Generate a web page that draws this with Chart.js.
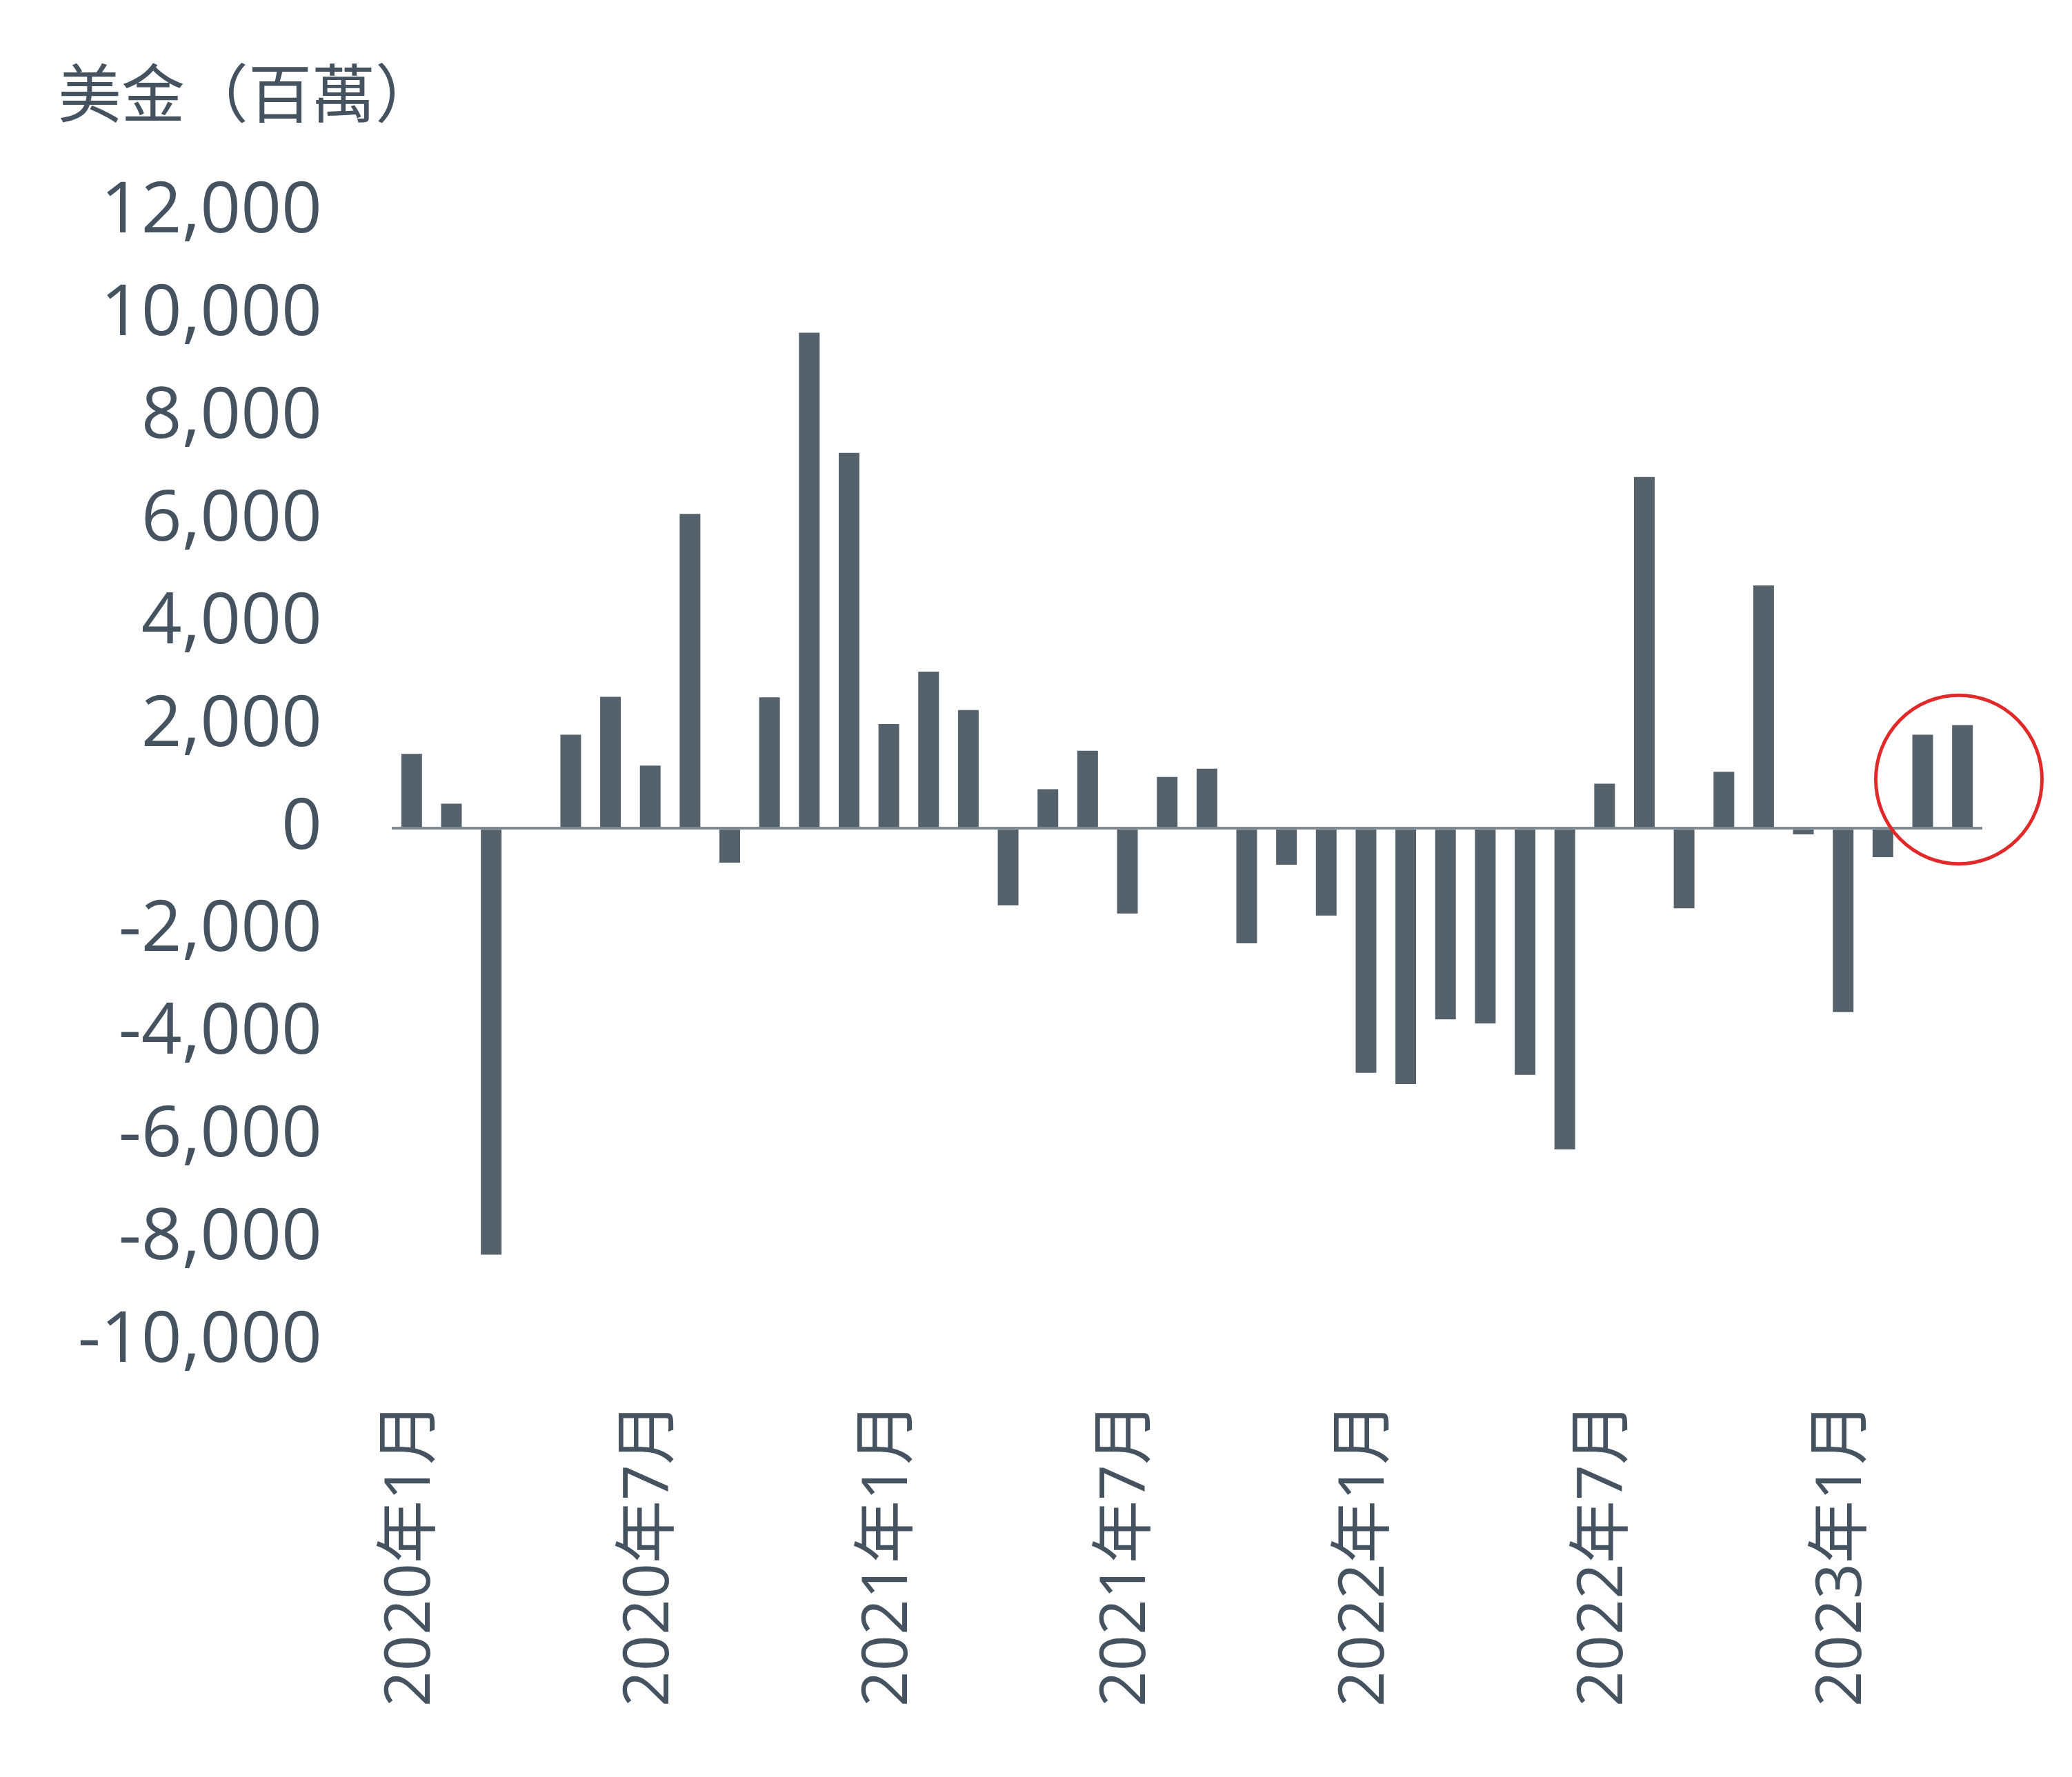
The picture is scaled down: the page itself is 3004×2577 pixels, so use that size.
<!DOCTYPE html>
<html>
<head>
<meta charset="utf-8">
<script src="https://cdn.jsdelivr.net/npm/chart.js@4"></script>
<style>
  html, body { margin: 0; padding: 0; background: #ffffff; }
  #wrap { width: 3004px; height: 2577px; position: relative; }
</style>
</head>
<body>
<div id="wrap"><canvas id="flows"></canvas></div>
<script>
// monthly flows, USD millions
const months = [
  "2020年1月", "2020年2月", "2020年3月", "2020年4月", "2020年5月", "2020年6月",
  "2020年7月", "2020年8月", "2020年9月", "2020年10月", "2020年11月", "2020年12月",
  "2021年1月", "2021年2月", "2021年3月", "2021年4月", "2021年5月", "2021年6月",
  "2021年7月", "2021年8月", "2021年9月", "2021年10月", "2021年11月", "2021年12月",
  "2022年1月", "2022年2月", "2022年3月", "2022年4月", "2022年5月", "2022年6月",
  "2022年7月", "2022年8月", "2022年9月", "2022年10月", "2022年11月", "2022年12月",
  "2023年1月", "2023年2月", "2023年3月", "2023年4月",
];
const flows = [
  1450, 480, -8300, 0, 1820, 2560,
  1220, 6120, -670, 2550, 9650, 7310,
  2030, 3050, 2300, -1500, 760, 1510,
  -1660, 1000, 1160, -2240, -710, -1700,
  -4760, -4980, -3720, -3800, -4800, -6250,
  870, 6840, -1560, 1100, 4730, -120,
  -3580, -560, 1820, 2010,
];
const yTicks = [-10000, -8000, -6000, -4000, -2000, 0, 2000, 4000, 6000, 8000, 10000, 12000];
const shownEvery = 6;

const textColor = "#44535f";
const barColor = "#55626c";

// red ring around the last two months
const ringPlugin = {
  id: "ring",
  afterDatasetsDraw(chart) {
    const x = chart.scales.x;
    const y = chart.scales.y;
    const step = x.getPixelForValue(1) - x.getPixelForValue(0);
    const cx = x.getPixelForValue(flows.length - 1) - step * 0.09;
    const cy = y.getPixelForValue(950);
    const ctx = chart.ctx;
    ctx.save();
    ctx.beginPath();
    ctx.ellipse(cx, cy, step * 2.09, step * 2.12, 0, 0, Math.PI * 2);
    ctx.strokeStyle = "#e02a2a";
    ctx.lineWidth = 5;
    ctx.stroke();
    ctx.restore();
  },
};

const ctx = document.getElementById("flows").getContext("2d");

new Chart(ctx, {
  type: "bar",
  data: {
    labels: months,
    datasets: [
      {
        label: "美金（百萬）",
        data: flows,
        backgroundColor: barColor,
        borderWidth: 0,
        categoryPercentage: 1,
        barPercentage: 0.52,
      },
    ],
  },
  options: {
    responsive: true,
    maintainAspectRatio: false,
    devicePixelRatio: 1,
    animation: false,
    layout: {
      padding: { left: 84, right: 130, top: 0, bottom: 0 },
    },
    plugins: {
      legend: { display: false },
      tooltip: { enabled: false },
      title: {
        display: true,
        text: "美金（百萬）",
        align: "start",
        color: textColor,
        font: { family: "'Noto Sans CJK TC', 'Open Sans'", size: 92, weight: "normal", lineHeight: 1.2 },
        padding: { top: 80, bottom: 117 },
      },
    },
    scales: {
      x: {
        grid: { display: false },
        border: { display: false },
        ticks: {
          autoSkip: false,
          maxRotation: 90,
          minRotation: 90,
          padding: 79,
          color: textColor,
          font: { family: "'Open Sans', 'Noto Sans CJK TC'", size: 91 },
          callback: (v, i) => (i % shownEvery === 0 ? months[i] : ""),
        },
        afterFit: (scale) => {
          scale.height = 631;
          scale.paddingLeft = 0;
          scale.paddingRight = 0;
        },
      },
      y: {
        min: yTicks[0],
        max: yTicks[yTicks.length - 1],
        afterBuildTicks: (scale) => {
          scale.ticks = yTicks.map((v) => ({ value: v }));
        },
        grid: {
          drawTicks: false,
          lineWidth: 4,
          color: (c) => (c.tick && c.tick.value === 0 ? "#7f8a92" : "rgba(0,0,0,0)"),
        },
        border: { display: false },
        ticks: {
          padding: 101,
          color: textColor,
          font: { family: "'Open Sans', 'Noto Sans'", size: 103 },
          callback: (v) => v.toLocaleString("en-US"),
        },
        afterFit: (scale) => {
          scale.width = 484;
        },
      },
    },
  },
  plugins: [ringPlugin],
});
</script>
</body>
</html>
